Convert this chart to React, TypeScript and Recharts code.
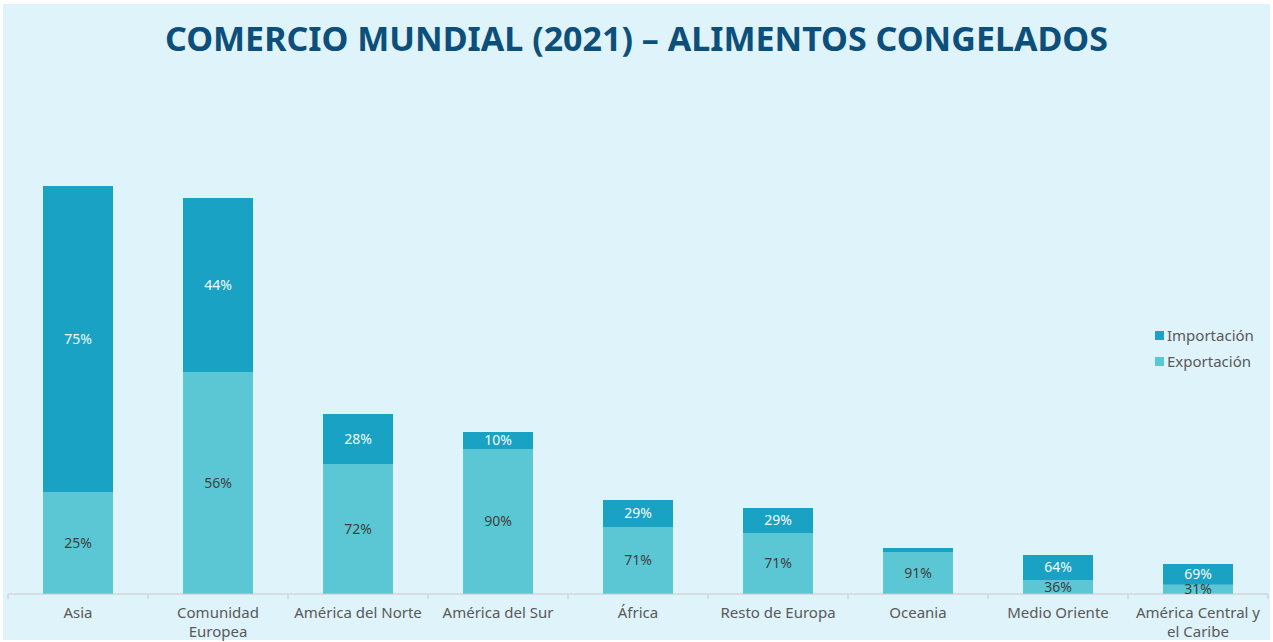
import { BarChart, Bar, XAxis, YAxis, LabelList } from "recharts";

const title = "COMERCIO MUNDIAL (2021) – ALIMENTOS CONGELADOS";

const categories = [
  "Asia",
  "Comunidad\nEuropea",
  "América del Norte",
  "América del Sur",
  "África",
  "Resto de Europa",
  "Oceania",
  "Medio Oriente",
  "América Central y\nel Caribe",
];

// values (relative units)
const exportValues = [102, 222, 130, 145, 67, 61, 42, 14, 9.3];
const importValues = [306, 174, 50, 17, 27, 25, 4, 25, 20.7];

const exportLabels = ["25%", "56%", "72%", "90%", "71%", "71%", "91%", "36%", "31%"];
const importLabels = ["75%", "44%", "28%", "10%", "29%", "29%", "", "64%", "69%"];

const seriesNames = { imp: "Importación", exp: "Exportación" };

const IMP_COLOR = "#19a2c3";
const EXP_COLOR = "#5bc7d5";
const FONT = "'Noto Sans', 'Open Sans', sans-serif";

const data = categories.map((name, i) => ({
  name,
  exp: exportValues[i],
  imp: importValues[i],
  expLabel: exportLabels[i],
  impLabel: importLabels[i],
}));

function CategoryTick(props: any) {
  const { x, y, payload, index } = props;
  const lines = String(payload.value).split("\n");
  return (
    <g>
      {index === 0 && (
        <line x1={x - 70} x2={x - 70} y1={y} y2={y + 5} stroke="#c9c9c9" />
      )}
      <line x1={x + 70} x2={x + 70} y1={y} y2={y + 5} stroke="#c9c9c9" />
      {lines.map((l, i) => (
        <text
          key={i}
          x={x}
          y={y + 24 + i * 19}
          textAnchor="middle"
          fill="#595959"
          fontSize={15}
          fontFamily={FONT}
        >
          {l}
        </text>
      ))}
    </g>
  );
}

export default function App() {
  return (
    <div
      style={{
        position: "absolute",
        left: 0,
        top: 0,
        width: 1273,
        height: 642,
        background: "#ffffff",
        fontFamily: FONT,
      }}
    >
      <div
        style={{
          position: "absolute",
          left: 3,
          top: 4,
          width: 1267,
          height: 636,
          background: "#dff3fa",
        }}
      />
      <div
        style={{
          position: "absolute",
          left: 0,
          top: 19,
          width: 1273,
          textAlign: "center",
          fontSize: 34,
          lineHeight: "38px",
          fontWeight: 700,
          color: "#0c4f7b",
        }}
      >
        {title}
      </div>
      <div style={{ position: "absolute", left: 0, top: 0 }}>
        <BarChart
          width={1273}
          height={642}
          data={data}
          margin={{ top: 144, right: 5, bottom: 0, left: 8 }}
        >
          <XAxis
            dataKey="name"
            interval={0}
            height={48}
            tickSize={0}
            tickMargin={0}
            tickLine={false}
            axisLine={{ stroke: "#c9c9c9" }}
            tick={<CategoryTick />}
          />
          <YAxis hide domain={[0, 450]} />
          <Bar
            dataKey="exp"
            stackId="a"
            fill={EXP_COLOR}
            barSize={70}
            isAnimationActive={false}
          >
            <LabelList
              dataKey="expLabel"
              position="center"
              fill="#404040"
              fontSize={14}
              fontFamily={FONT}
            />
          </Bar>
          <Bar
            dataKey="imp"
            stackId="a"
            fill={IMP_COLOR}
            barSize={70}
            isAnimationActive={false}
          >
            <LabelList
              dataKey="impLabel"
              position="center"
              fill="#f2fafc"
              fontSize={14}
              fontFamily={FONT}
            />
          </Bar>
        </BarChart>
      </div>
      <div
        style={{
          position: "absolute",
          left: 1155,
          top: 322,
          fontSize: 15,
          color: "#595959",
          lineHeight: "26px",
        }}
      >
        {[
          { name: seriesNames.imp, color: IMP_COLOR },
          { name: seriesNames.exp, color: EXP_COLOR },
        ].map((s) => (
          <div key={s.name} style={{ display: "flex", alignItems: "center" }}>
            <span
              style={{
                display: "inline-block",
                width: 9,
                height: 9,
                background: s.color,
                marginRight: 3,
              }}
            />
            {s.name}
          </div>
        ))}
      </div>
    </div>
  );
}
